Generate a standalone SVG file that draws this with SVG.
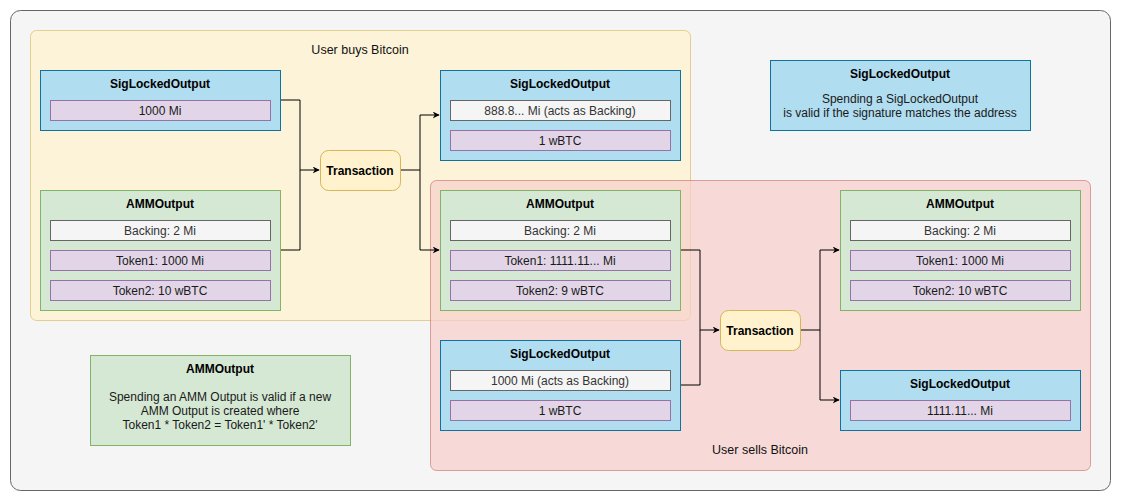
<svg xmlns="http://www.w3.org/2000/svg" width="1121" height="501" viewBox="0 0 1121 501">
<defs>
<style>
text{font-family:"Liberation Sans",Arial,sans-serif;font-size:12px;text-anchor:middle;fill:#000}
.t{font-weight:bold}
.lbl{font-size:12.5px;fill:#111}
.blue{fill:#b1ddf0;stroke:#10739e}
.green{fill:#d5e8d4;stroke:#82b366}
.gray{fill:#f5f5f5;stroke:#666666}
.purple{fill:#e1d5e7;stroke:#9673a6}
.tx{fill:#fff2cc;stroke:#d6b656}
.g{fill:#333333}
.p{fill:#1a1a1a}
.c{fill:none;stroke:#000;stroke-width:1}
</style>
<marker id="arr" viewBox="0 0 10 10" refX="9" refY="5" markerWidth="7" markerHeight="7" markerUnits="userSpaceOnUse" orient="auto">
<path d="M0,0 L10,5 L0,10 L3,5 Z" fill="#000"/>
</marker>
</defs>
<rect x="0" y="0" width="1121" height="501" fill="#ffffff"/>
<rect id="outer" x="10.5" y="10.5" width="1100" height="480" rx="10" fill="#f5f5f5" stroke="#666666"/>
<g id="group-buy">
<rect x="30.5" y="30.5" width="660" height="290" rx="6" fill="#fff2cc" fill-opacity="0.7" stroke="#d6b656" stroke-opacity="0.6"/>
<text x="360" y="54" class="lbl">User buys Bitcoin</text>
</g>
<g id="group-sell">
<rect x="430.5" y="180.5" width="660" height="290" rx="6" fill="#f8cecc" fill-opacity="0.7" stroke="#b85450" stroke-opacity="0.5"/>
<text x="760" y="454" class="lbl">User sells Bitcoin</text>
</g>
<g id="connectors">
<path class="c" d="M280,100 H300 V170 H319" marker-end="url(#arr)"/>
<path class="c" d="M280,250 H300 V170"/>
<path class="c" d="M400,170 H420 V115 H439" marker-end="url(#arr)"/>
<path class="c" d="M420,170 V250 H439" marker-end="url(#arr)"/>
<path class="c" d="M680,250 H700 V330 H719" marker-end="url(#arr)"/>
<path class="c" d="M680,385 H700 V330"/>
<path class="c" d="M800,330 H820 V250 H839" marker-end="url(#arr)"/>
<path class="c" d="M820,330 V400 H839" marker-end="url(#arr)"/>
</g>
<g id="sig1">
<rect class="blue" x="40.5" y="70.5" width="240" height="60"/>
<text class="t" x="160" y="88">SigLockedOutput</text>
<rect class="purple" x="50.5" y="100.5" width="220" height="20"/>
<text x="160" y="115" class="p">1000 Mi</text>
</g>
<g id="amm1">
<rect class="green" x="40.5" y="190.5" width="240" height="120"/>
<text class="t" x="160" y="208">AMMOutput</text>
<rect class="gray" x="50.5" y="220.5" width="220" height="20"/>
<text x="160" y="235" class="g">Backing: 2 Mi</text>
<rect class="purple" x="50.5" y="250.5" width="220" height="20"/>
<text x="160" y="265" class="p">Token1: 1000 Mi</text>
<rect class="purple" x="50.5" y="280.5" width="220" height="20"/>
<text x="160" y="295" class="p">Token2: 10 wBTC</text>
</g>
<g id="tx1">
<rect class="tx" x="320.5" y="150.5" width="80" height="40" rx="8"/>
<text class="t" x="360" y="175">Transaction</text>
</g>
<g id="sig2">
<rect class="blue" x="440.5" y="70.5" width="240" height="90"/>
<text class="t" x="560" y="88">SigLockedOutput</text>
<rect class="gray" x="450.5" y="100.5" width="220" height="20"/>
<text x="560" y="115" class="g">888.8... Mi (acts as Backing)</text>
<rect class="purple" x="450.5" y="130.5" width="220" height="20"/>
<text x="560" y="145" class="p">1 wBTC</text>
</g>
<g id="amm2">
<rect class="green" x="440.5" y="190.5" width="240" height="120"/>
<text class="t" x="560" y="208">AMMOutput</text>
<rect class="gray" x="450.5" y="220.5" width="220" height="20"/>
<text x="560" y="235" class="g">Backing: 2 Mi</text>
<rect class="purple" x="450.5" y="250.5" width="220" height="20"/>
<text x="560" y="265" class="p">Token1: 1111.11... Mi</text>
<rect class="purple" x="450.5" y="280.5" width="220" height="20"/>
<text x="560" y="295" class="p">Token2: 9 wBTC</text>
</g>
<g id="sig3">
<rect class="blue" x="440.5" y="340.5" width="240" height="90"/>
<text class="t" x="560" y="358">SigLockedOutput</text>
<rect class="gray" x="450.5" y="370.5" width="220" height="20"/>
<text x="560" y="385" class="g">1000 Mi (acts as Backing)</text>
<rect class="purple" x="450.5" y="400.5" width="220" height="20"/>
<text x="560" y="415" class="p">1 wBTC</text>
</g>
<g id="tx2">
<rect class="tx" x="720.5" y="310.5" width="80" height="40" rx="8"/>
<text class="t" x="760" y="335">Transaction</text>
</g>
<g id="amm3">
<rect class="green" x="840.5" y="190.5" width="240" height="120"/>
<text class="t" x="960" y="208">AMMOutput</text>
<rect class="gray" x="850.5" y="220.5" width="220" height="20"/>
<text x="960" y="235" class="g">Backing: 2 Mi</text>
<rect class="purple" x="850.5" y="250.5" width="220" height="20"/>
<text x="960" y="265" class="p">Token1: 1000 Mi</text>
<rect class="purple" x="850.5" y="280.5" width="220" height="20"/>
<text x="960" y="295" class="p">Token2: 10 wBTC</text>
</g>
<g id="sig4">
<rect class="blue" x="840.5" y="370.5" width="240" height="60"/>
<text class="t" x="960" y="388">SigLockedOutput</text>
<rect class="purple" x="850.5" y="400.5" width="220" height="20"/>
<text x="960" y="415" class="p">1111.11... Mi</text>
</g>
<g id="legend-sig">
<rect class="blue" x="770.5" y="60.5" width="260" height="70"/>
<text class="t" x="900" y="78">SigLockedOutput</text>
<text x="900" y="103" class="p">Spending a SigLockedOutput</text>
<text x="900" y="117" class="p">is valid if the signature matches the address</text>
</g>
<g id="legend-amm">
<rect class="green" x="90.5" y="355.5" width="260" height="90"/>
<text class="t" x="220" y="373">AMMOutput</text>
<text x="220" y="401" class="p">Spending an AMM Output is valid if a new</text>
<text x="220" y="415" class="p">AMM Output is created where</text>
<text x="220" y="429" class="p">Token1 * Token2 = Token1' * Token2'</text>
</g>
</svg>
